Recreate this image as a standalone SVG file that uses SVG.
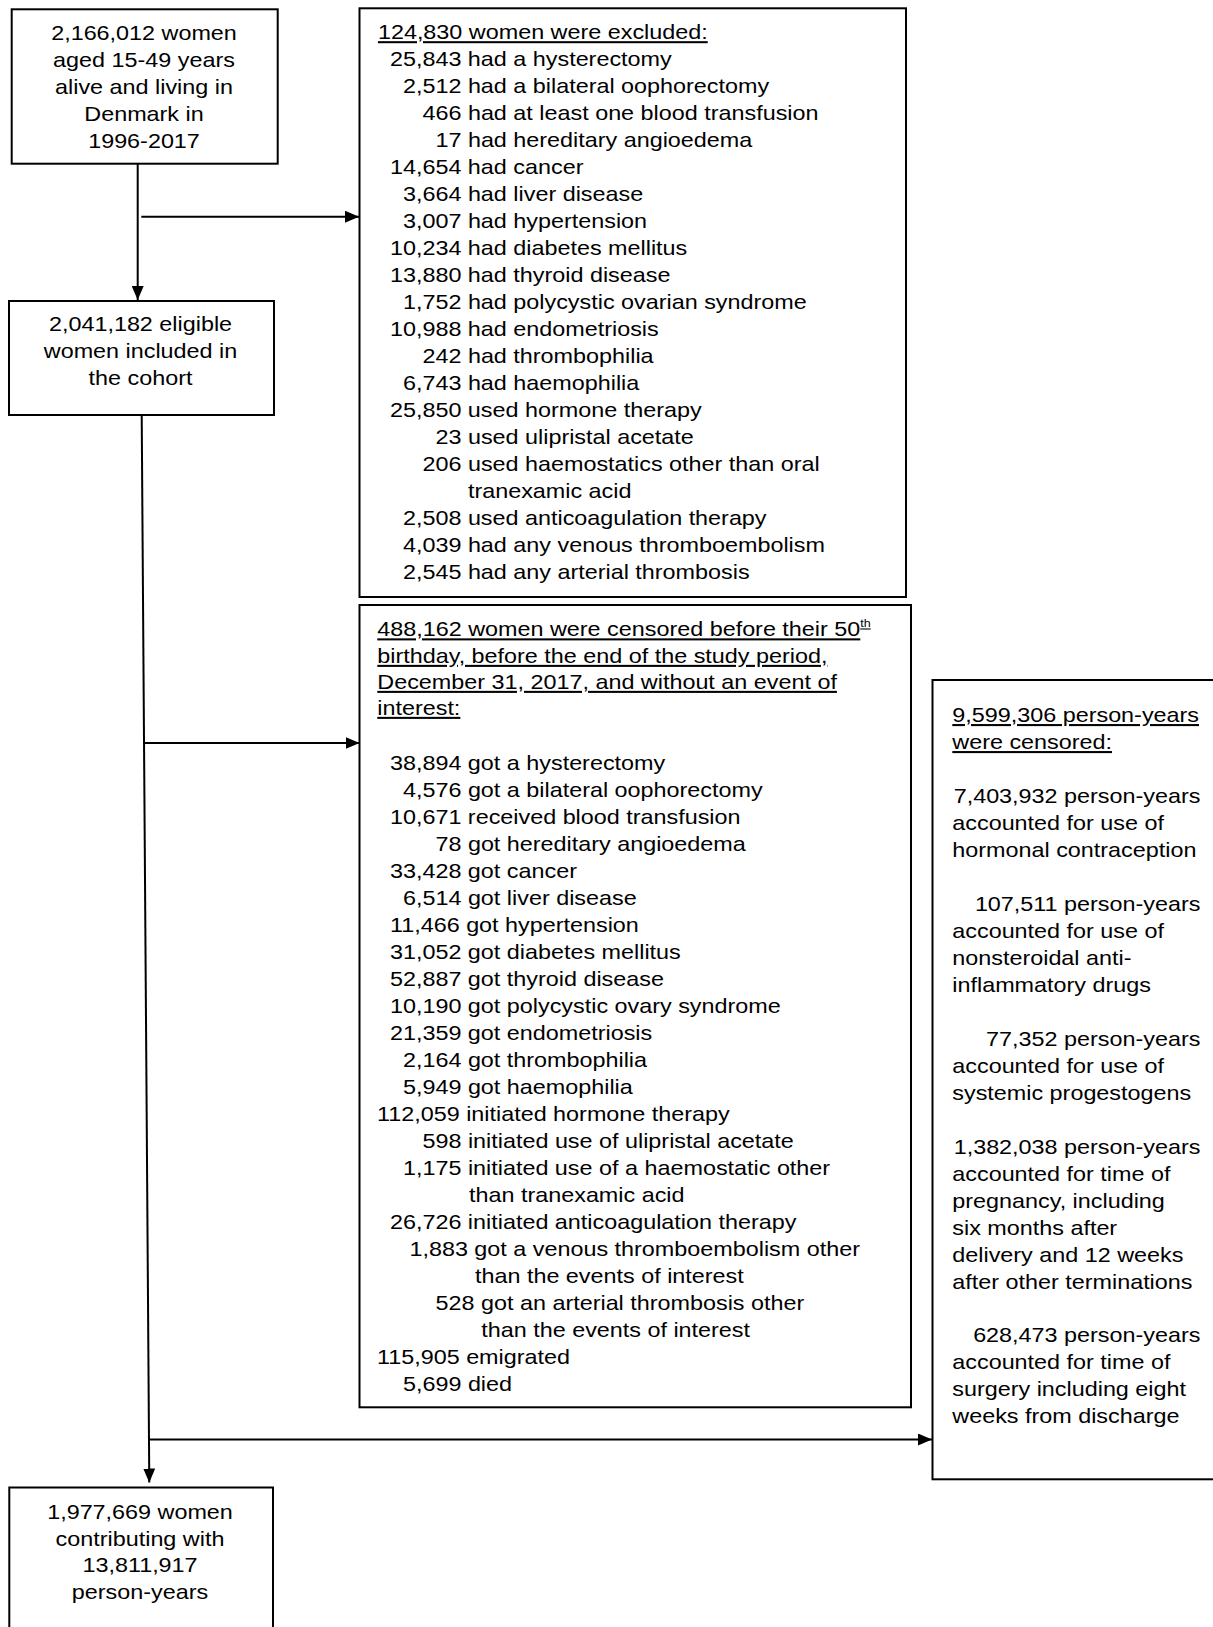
<svg xmlns="http://www.w3.org/2000/svg" width="1213" height="1627" viewBox="0 0 1213 1627">
<style>
.box{fill:#fff;stroke:#000;stroke-width:2}
.t{font-family:"Liberation Sans",Arial,sans-serif;font-size:20.5px;fill:#000}
.m{text-anchor:middle}
.e{text-anchor:end}
.u{text-decoration:underline}
.c{fill:none;stroke:#000;stroke-width:2}
</style>
<defs>
<marker id="ah" markerUnits="userSpaceOnUse" markerWidth="14" markerHeight="12" refX="14" refY="6" orient="auto">
<path d="M0,0 L14,6 L0,12 z" fill="#000"/>
</marker>
</defs>
<rect width="1213" height="1627" fill="#fff"/>

<g id="connectors">
<line class="c" x1="137.7" y1="164" x2="137.7" y2="300" marker-end="url(#ah)"/>
<line class="c" x1="141.3" y1="216.7" x2="359" y2="216.7" marker-end="url(#ah)"/>
<line class="c" x1="141.7" y1="415" x2="149.3" y2="1482.5" marker-end="url(#ah)"/>
<line class="c" x1="144.3" y1="743" x2="359.5" y2="743" marker-end="url(#ah)"/>
<line class="c" x1="149" y1="1439.5" x2="932" y2="1439.5" marker-end="url(#ah)"/>
</g>

<g id="n-start">
<rect class="box" x="11.7" y="9.3" width="266" height="154.4"/>
<g class="t m" transform="translate(144,0) scale(1.14,1)">
<text x="0" y="40">2,166,012 women</text>
<text x="0" y="67">aged 15-49 years</text>
<text x="0" y="94">alive and living in</text>
<text x="0" y="121">Denmark in</text>
<text x="0" y="148">1996-2017</text>
</g>
</g>

<g id="n-eligible">
<rect class="box" x="9" y="301" width="265" height="114"/>
<g class="t m" transform="translate(140.5,0) scale(1.14,1)">
<text x="0" y="331">2,041,182 eligible</text>
<text x="0" y="358">women included in</text>
<text x="0" y="385">the cohort</text>
</g>
</g>

<g id="n-excluded">
<rect class="box" x="359.5" y="8.3" width="546.5" height="588.7"/>
<g class="t" transform="translate(461.4,0) scale(1.14,1)">
<text class="u" x="-73.25" y="39.3">124,830 women were excluded:</text>
<text x="-62.69" y="66.3">25,843 had a hysterectomy</text>
<text x="-51.29" y="93.2">2,512 had a bilateral oophorectomy</text>
<text x="-34.19" y="120.2">466 had at least one blood transfusion</text>
<text x="-22.8" y="147.2">17 had hereditary angioedema</text>
<text x="-62.69" y="174.2">14,654 had cancer</text>
<text x="-51.29" y="201.1">3,664 had liver disease</text>
<text x="-51.29" y="228.1">3,007 had hypertension</text>
<text x="-62.69" y="255.1">10,234 had diabetes mellitus</text>
<text x="-62.69" y="282">13,880 had thyroid disease</text>
<text x="-51.29" y="309">1,752 had polycystic ovarian syndrome</text>
<text x="-62.69" y="336">10,988 had endometriosis</text>
<text x="-34.19" y="362.9">242 had thrombophilia</text>
<text x="-51.29" y="389.9">6,743 had haemophilia</text>
<text x="-62.69" y="416.9">25,850 used hormone therapy</text>
<text x="-22.8" y="443.9">23 used ulipristal acetate</text>
<text x="-34.19" y="470.8">206 used haemostatics other than oral</text>
<text x="5.7" y="497.8">tranexamic acid</text>
<text x="-51.29" y="524.8">2,508 used anticoagulation therapy</text>
<text x="-51.29" y="551.7">4,039 had any venous thromboembolism</text>
<text x="-51.29" y="578.7">2,545 had any arterial thrombosis</text>
</g>
</g>

<g id="n-censored">
<rect class="box" x="359.5" y="605" width="551.5" height="802.3"/>
<g class="t" transform="translate(461.4,0) scale(1.14,1)">
<text class="u" x="-73.8" y="636.5">488,162 women were censored before their 50<tspan font-size="11" dy="-9">th</tspan></text>
<text class="u" x="-73.8" y="663">birthday, before the end of the study period,</text>
<text class="u" x="-73.8" y="689">December 31, 2017, and without an event of</text>
<text class="u" x="-73.8" y="715">interest:</text>
<text x="-62.69" y="770.5">38,894 got a hysterectomy</text>
<text x="-51.29" y="797.5">4,576 got a bilateral oophorectomy</text>
<text x="-62.69" y="824.4">10,671 received blood transfusion</text>
<text x="-22.8" y="851.4">78 got hereditary angioedema</text>
<text x="-62.69" y="878.3">33,428 got cancer</text>
<text x="-51.29" y="905.3">6,514 got liver disease</text>
<text x="-62.69" y="932.3">11,466 got hypertension</text>
<text x="-62.69" y="959.2">31,052 got diabetes mellitus</text>
<text x="-62.69" y="986.2">52,887 got thyroid disease</text>
<text x="-62.69" y="1013.1">10,190 got polycystic ovary syndrome</text>
<text x="-62.69" y="1040.1">21,359 got endometriosis</text>
<text x="-51.29" y="1067.1">2,164 got thrombophilia</text>
<text x="-51.29" y="1094">5,949 got haemophilia</text>
<text x="-74.09" y="1121">112,059 initiated hormone therapy</text>
<text x="-34.19" y="1147.9">598 initiated use of ulipristal acetate</text>
<text x="-51.29" y="1174.9">1,175 initiated use of a haemostatic other</text>
<text x="6.7" y="1201.9">than tranexamic acid</text>
<text x="-62.69" y="1228.8">26,726 initiated anticoagulation therapy</text>
<text x="-45.59" y="1255.8">1,883 got a venous thromboembolism other</text>
<text x="11.9" y="1282.7">than the events of interest</text>
<text x="-22.7" y="1309.7">528 got an arterial thrombosis other</text>
<text x="17.4" y="1336.7">than the events of interest</text>
<text x="-74.09" y="1363.6">115,905 emigrated</text>
<text x="-51.29" y="1390.6">5,699 died</text>
</g>
</g>

<g id="n-personyears">
<rect class="box" x="932.5" y="680" width="300" height="799.3"/>
<g class="t" transform="translate(952.3,0) scale(1.14,1)">
<text class="u" x="0" y="722.2">9,599,306 person-years</text>
<text class="u" x="0" y="749.2">were censored:</text>
<text class="e" x="217.6" y="803.1">7,403,932 person-years</text>
<text x="0" y="830.1">accounted for use of</text>
<text x="0" y="857.1">hormonal contraception</text>
<text class="e" x="217.6" y="911">107,511 person-years</text>
<text x="0" y="938">accounted for use of</text>
<text x="0" y="965">nonsteroidal anti-</text>
<text x="0" y="991.9">inflammatory drugs</text>
<text class="e" x="217.6" y="1045.9">77,352 person-years</text>
<text x="0" y="1072.8">accounted for use of</text>
<text x="0" y="1099.8">systemic progestogens</text>
<text class="e" x="217.6" y="1153.7">1,382,038 person-years</text>
<text x="0" y="1180.7">accounted for time of</text>
<text x="0" y="1207.7">pregnancy, including</text>
<text x="0" y="1234.6">six months after</text>
<text x="0" y="1261.6">delivery and 12 weeks</text>
<text x="0" y="1288.6">after other terminations</text>
<text class="e" x="217.6" y="1342.5">628,473 person-years</text>
<text x="0" y="1369.5">accounted for time of</text>
<text x="0" y="1396.4">surgery including eight</text>
<text x="0" y="1423.4">weeks from discharge</text>
</g>
</g>

<g id="n-final">
<rect class="box" x="9.3" y="1487.5" width="263.7" height="200"/>
<g class="t m" transform="translate(140,0) scale(1.14,1)">
<text x="0" y="1519">1,977,669 women</text>
<text x="0" y="1546">contributing with</text>
<text x="0" y="1572.5">13,811,917</text>
<text x="0" y="1599.5">person-years</text>
</g>
</g>
</svg>
